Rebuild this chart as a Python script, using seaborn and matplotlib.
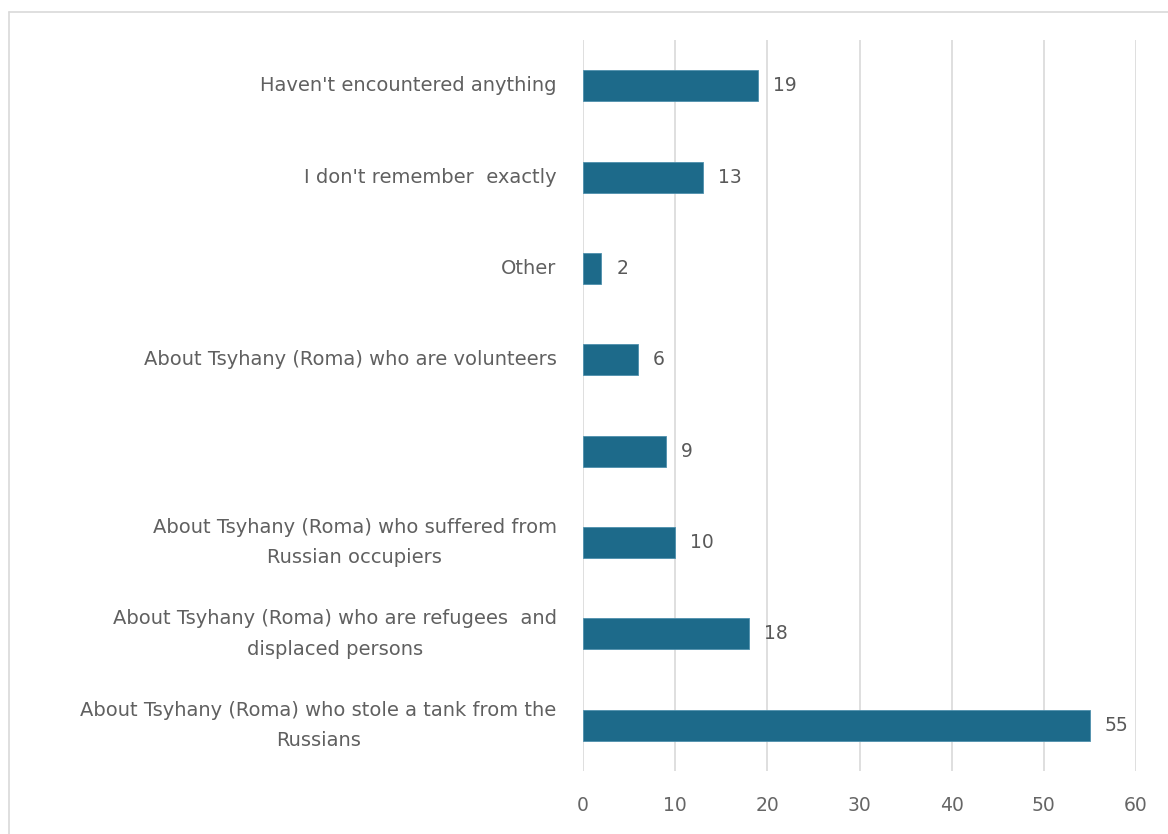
import matplotlib
matplotlib.use("Agg")
import matplotlib.pyplot as plt
import seaborn as sns
import pandas as pd
from matplotlib.lines import Line2D

categories = [
    "Haven't encountered anything",
    "I don't remember  exactly",
    "Other",
    "About Tsyhany (Roma) who are volunteers",
    " ",
    "About Tsyhany (Roma) who suffered from\nRussian occupiers",
    "About Tsyhany (Roma) who are refugees  and\ndisplaced persons",
    "About Tsyhany (Roma) who stole a tank from the\nRussians",
]
values = [19, 13, 2, 6, 9, 10, 18, 55]
xticks = [0, 10, 20, 30, 40, 50, 60]

sns.set_theme(style="white")
plt.rcParams['font.family'] = ['DejaVu Sans']

df = pd.DataFrame({"cat": categories, "val": values})

fig = plt.figure(figsize=(11.68, 8.34), dpi=100)
ax = fig.add_axes([583/1168, 1 - 771/834, (1136 - 583)/1168, 731/834])

sns.barplot(data=df, y="cat", x="val", orient="h", color="#1d6a8a",
            width=0.34, ax=ax, saturation=1, edgecolor="#4e90ad", linewidth=0.6)

ax.set_xlim(0, 60)
ax.set_ylim(7.5, -0.5)
ax.set_xticks(xticks)
ax.set_xticklabels([str(t) for t in xticks])
ax.set_xlabel("")
ax.set_ylabel("")
for s in ax.spines.values():
    s.set_visible(False)
ax.grid(axis="x", color="#d9d9d9", linewidth=1.2)
ax.grid(axis="y", visible=False)
ax.set_axisbelow(True)
ax.tick_params(axis="x", length=0, pad=18, labelsize=13.5, labelcolor="#666666")
ax.tick_params(axis="y", length=0, pad=19, labelsize=14, labelcolor="#606060")
for lbl in ax.get_yticklabels():
    lbl.set_multialignment("center")
    lbl.set_linespacing(1.75)
    lbl.set_va("center")

for i, v in enumerate(values):
    ax.text(v + 1.6, i, str(v), va="center", ha="left", fontsize=13.5, color="#595959")

fig.lines.append(Line2D([9/1168, 9/1168], [0, 1 - 12/834], transform=fig.transFigure,
                        color="#d9d9d9", linewidth=1.2))
fig.lines.append(Line2D([9/1168, 1], [1 - 12/834, 1 - 12/834], transform=fig.transFigure,
                        color="#d9d9d9", linewidth=1.2))

fig.savefig("out.png", dpi=100, facecolor="white")
